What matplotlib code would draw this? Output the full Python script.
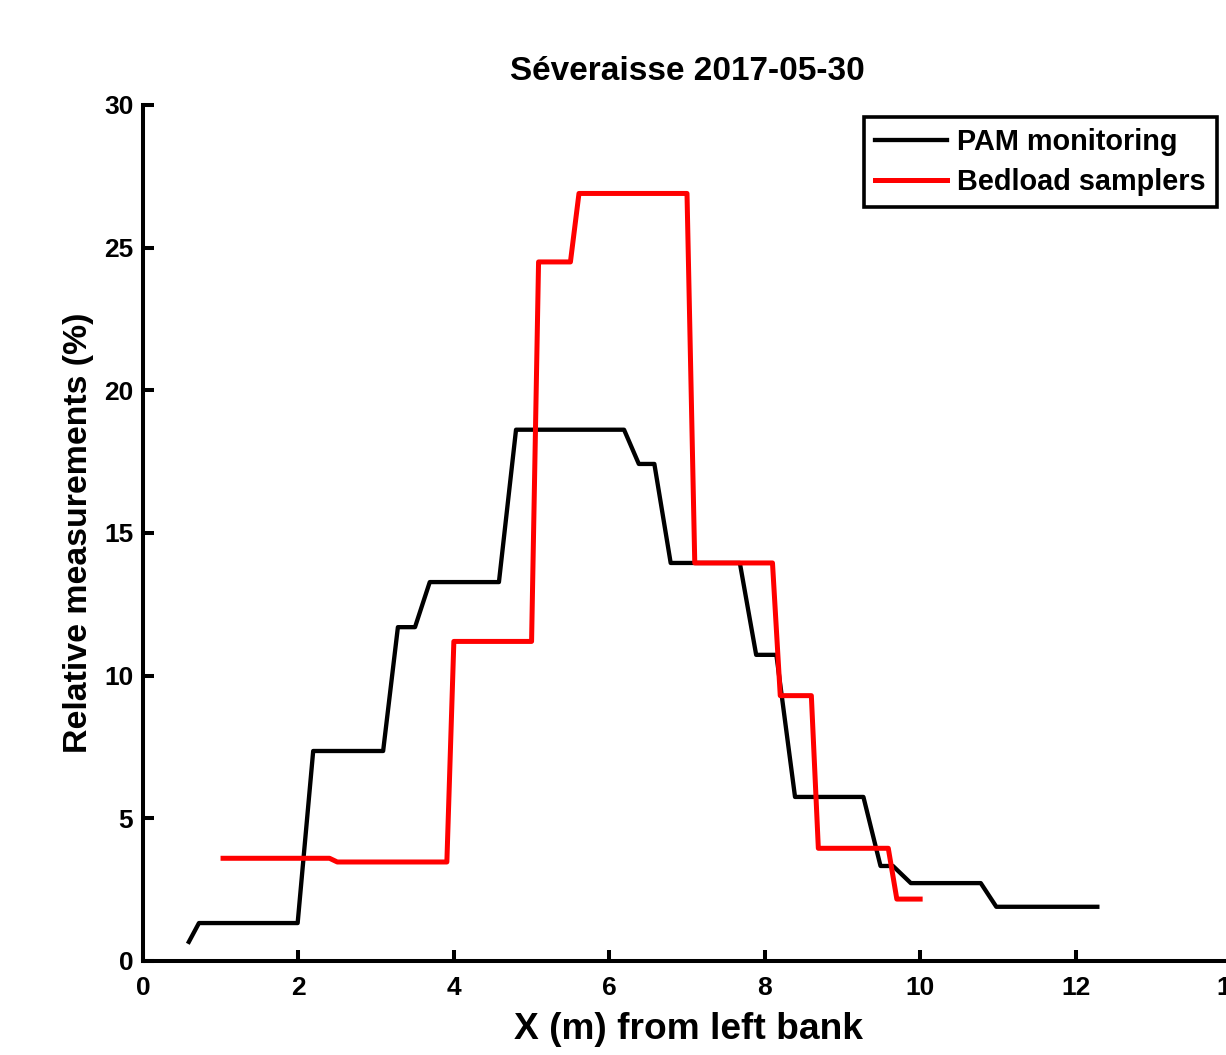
import numpy as np
import matplotlib
matplotlib.use("Agg")
import matplotlib.pyplot as plt

plt.rcParams['font.family'] = ['Liberation Sans', 'DejaVu Sans']
plt.rcParams['font.weight'] = 'bold'

# PAM monitoring (black)
pam_x = [0.59, 0.72, 1.99, 2.19, 3.09, 3.28, 3.50, 3.69, 4.58, 4.80, 6.19, 6.38, 6.58,
         6.79, 7.68, 7.89, 8.15, 8.39, 9.27, 9.49, 9.65, 9.88, 10.78, 10.98, 12.28]
pam_y = [0.67, 1.33, 1.33, 7.36, 7.36, 11.7, 11.7, 13.28, 13.28, 18.62, 18.62, 17.42, 17.42,
         13.95, 13.95, 10.73, 10.73, 5.75, 5.75, 3.33, 3.33, 2.73, 2.73, 1.9, 1.9]

# Bedload samplers (red)
bed_x = [1.03, 2.40, 2.50, 3.91, 4.00, 5.00, 5.09, 5.50, 5.61, 7.00, 7.10, 8.10, 8.20,
         8.60, 8.69, 9.59, 9.70, 10.00]
bed_y = [3.6, 3.6, 3.47, 3.47, 11.2, 11.2, 24.5, 24.5, 26.9, 26.9, 13.95, 13.95, 9.3,
         9.3, 3.95, 3.95, 2.17, 2.17]

fig = plt.figure(figsize=(12.26, 10.55), dpi=100)
ax = fig.add_axes([143/1226, 1 - 961/1055, (1231-143)/1226, (961-105)/1055])

ax.plot(pam_x, pam_y, color='black', lw=3.1, label='PAM monitoring')
ax.plot(bed_x, bed_y, color='red', lw=3.6, label='Bedload samplers')

ax.set_xlim(0, 14)
ax.set_ylim(0, 30)
ax.set_xticks(np.arange(0, 15, 2))
ax.set_yticks(np.arange(0, 31, 5))

ax.spines['top'].set_visible(False)
ax.spines['right'].set_visible(False)
for s in ['left', 'bottom']:
    ax.spines[s].set_linewidth(2.9)
ax.tick_params(direction='in', length=8, width=2.9, labelsize=19)
ax.tick_params(axis='x', pad=11)
ax.tick_params(axis='y', pad=7)

ax.set_title('Séveraisse 2017-05-30', fontsize=24, fontweight='bold', pad=18)
ax.set_xlabel('X (m) from left bank', fontsize=26.7, fontweight='bold')
ax.xaxis.set_label_coords(0.501, -0.059)
ax.set_ylabel('Relative measurements (%)', fontsize=24.4, fontweight='bold')
ax.yaxis.set_label_coords(-0.045, 0.5)

leg = ax.legend(loc='upper left', bbox_to_anchor=(864/1226, 1 - 117/1055),
                bbox_transform=fig.transFigure, fontsize=20.8, frameon=True,
                fancybox=False, edgecolor='black', framealpha=1, handlelength=2.5,
                handletextpad=0.35, borderpad=0.38, labelspacing=0.42,
                borderaxespad=0)
leg.get_frame().set_linewidth(2.6)

fig.savefig('out.png', dpi=100)
